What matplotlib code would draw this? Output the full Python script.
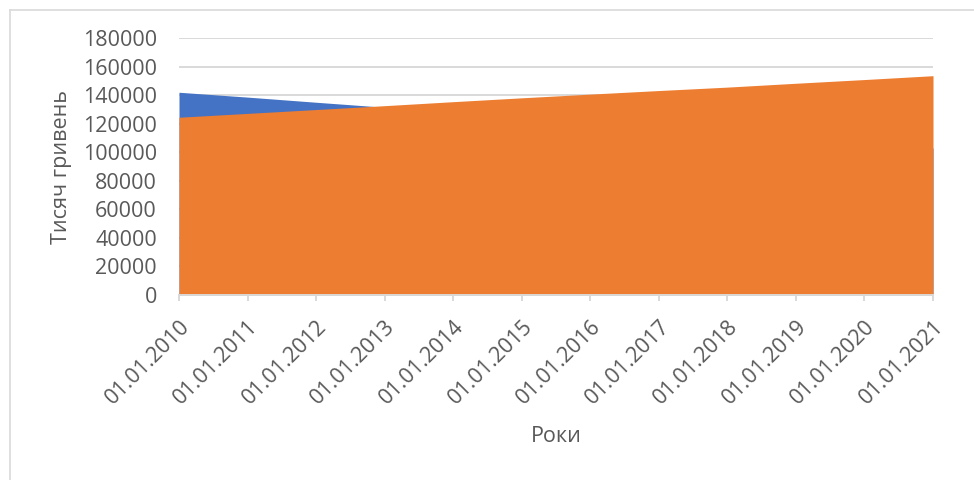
import matplotlib.pyplot as plt
from matplotlib.lines import Line2D

# categories on the x axis
dates = ["01.01.2010", "01.01.2011", "01.01.2012", "01.01.2013",
         "01.01.2014", "01.01.2015", "01.01.2016", "01.01.2017",
         "01.01.2018", "01.01.2019", "01.01.2020", "01.01.2021"]

# two overlapping area series, thousand hryvnias
series_blue = [142000, 138600, 135000, 131500, 128000, 124500,
               121000, 117500, 114000, 110500, 107000, 103000]
series_orange = [124500, 127200, 129900, 132600, 135400, 138100,
                 140700, 143200, 145600, 148300, 150900, 153600]

y_ticks = list(range(0, 180001, 20000))

plt.rcParams['font.family'] = ['Open Sans', 'DejaVu Sans']
text_grey = "#595959"
line_grey = "#D9D9D9"

fig = plt.figure(figsize=(9.74, 4.8), dpi=100)
ax = fig.add_axes([179 / 974, 1 - 295 / 480, (933 - 179) / 974, (295 - 38) / 480])

x = list(range(len(dates)))
ax.fill_between(x, 0, series_blue, color="#4472C4", linewidth=0, zorder=2)
ax.fill_between(x, 0, series_orange, color="#ED7D31", linewidth=0, zorder=3)

ax.set_xlim(0, len(dates) - 1)
ax.set_ylim(0, 180000)
ax.set_yticks(y_ticks)
ax.set_yticklabels([str(v) for v in y_ticks])
ax.yaxis.grid(True, color=line_grey, linewidth=1.4, zorder=0)
ax.set_axisbelow(True)

ax.set_xticks(x)
ax.set_xticklabels(dates, rotation=45, ha="right", va="top",
                   rotation_mode="anchor")

for side in ["top", "right", "left"]:
    ax.spines[side].set_visible(False)
ax.spines["bottom"].set_color(line_grey)
ax.spines["bottom"].set_linewidth(1.4)
ax.spines["bottom"].set_zorder(4)

ax.tick_params(axis="y", length=0, pad=16, labelsize=15.5, labelcolor=text_grey)
ax.tick_params(axis="x", length=4, width=1.4, color=line_grey, pad=11,
               labelsize=15.5, labelcolor=text_grey)

ax.set_ylabel("Тисяч гривень", fontsize=15.5, color=text_grey, labelpad=8)
fig.text(556 / 974, 1 - 437 / 480, "Роки", fontsize=15.5, color=text_grey,
         ha="center", va="center")

# chart area frame (left and top edges)
fig.add_artist(Line2D([10 / 974, 10 / 974], [0, 1 - 9.5 / 480],
                      transform=fig.transFigure, color=line_grey, linewidth=1.2))
fig.add_artist(Line2D([10 / 974, 1], [1 - 9.5 / 480, 1 - 9.5 / 480],
                      transform=fig.transFigure, color=line_grey, linewidth=1.2))

fig.savefig("out.png", dpi=100)
